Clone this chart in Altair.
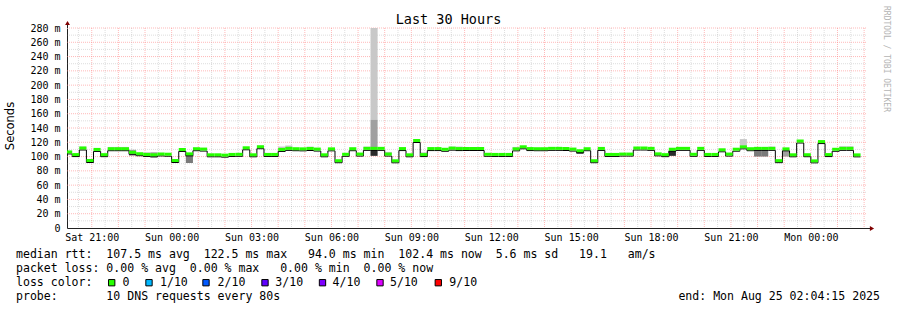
import altair as alt
import pandas as pd

# ---------------- data ----------------
first_bin = "2025-08-23 20:00:00"      # start of first 16-minute RRD bin
bin_minutes = 16

# median RTT per bin (ms)
median_ms = [
    106.5, 102.8, 112.0, 94.5, 110.0, 102.7, 111.0, 111.0, 111.0, 106.0,
    104.0, 103.0, 102.5, 103.7, 103.3, 94.5, 110.0, 103.8, 111.0, 110.5,
    102.5, 102.5, 102.0, 103.0, 103.2, 112.3, 102.5, 113.8, 103.0, 103.0,
    110.0, 111.5, 111.0, 110.8, 111.3, 110.5, 102.5, 110.8, 94.2, 103.2,
    111.0, 103.5, 111.5, 111.5, 111.5, 103.5, 94.1, 111.2, 102.5, 122.5,
    102.8, 111.2, 111.2, 110.2, 111.8, 111.2, 111.3, 111.3, 111.3, 103.2,
    103.0, 103.0, 103.0, 110.8, 113.7, 111.2, 111.0, 111.0, 111.5, 111.5,
    111.3, 110.5, 108.3, 111.0, 94.2, 111.4, 103.0, 103.0, 103.5, 103.5,
    112.0, 112.0, 111.5, 103.8, 102.7, 110.3, 111.5, 111.5, 103.2, 111.5,
    103.0, 103.0, 109.5, 103.5, 110.3, 113.6, 111.0, 111.5, 111.5, 111.5,
    94.3, 110.8, 102.5, 121.8, 102.6, 94.0, 121.0, 102.8, 110.2, 111.5,
    111.5, 102.4,
]

# visible "smoke" (ping spread) per bin: bin index, low, high, density level
smoke_bin = [2, 6, 7, 8, 9, 11, 12, 17, 30, 31, 34, 42, 43, 43, 43, 45, 50,
             54, 55, 63, 72, 85, 95, 97, 98, 99, 101, 109, 110]
smoke_lo = [109.5, 110, 110, 110, 101, 101, 98.5, 91, 109, 110, 110, 110,
            151.7, 109, 101, 103, 101, 110, 110, 110, 104, 101, 112, 100, 100,
            110, 100, 110, 110]
smoke_hi = [114, 113.5, 113.5, 113.5, 109.5, 106, 106, 104, 114, 115.5, 114,
            114, 280, 151.7, 109, 106.5, 106, 114, 114, 113.5, 108, 108.5,
            124.5, 110, 110, 114, 109, 114.5, 114.5]
smoke_level = [1, 1, 1, 1, 2, 1, 2, 3, 1, 1, 1, 1, 1, 2, 4, 1, 1, 1, 1, 1, 4,
               4, 1, 3, 3, 1, 2, 1, 1]

y_ticks = list(range(0, 281, 20))
loss_labels = ["0", "1/10", "2/10", "3/10", "4/10", "5/10", "9/10"]
loss_colors = ["#26ff00", "#00b8ff", "#0059ff", "#5e00ff", "#7e00ff", "#dd00ff", "#ff0000"]

title_text = "Last 30 Hours"
row_rtt = "median rtt:  107.5 ms avg  122.5 ms max   94.0 ms min  102.4 ms now  5.6 ms sd   19.1   am/s"
row_loss = "packet loss: 0.00 % avg  0.00 % max   0.00 % min  0.00 % now"
row_color = "loss color:"
row_probe = "probe:       10 DNS requests every 80s"
end_text = "end: Mon Aug 25 02:04:15 2025"
watermark = "RRDTOOL / TOBI OETIKER"

# ---------------- tables ----------------
t0 = pd.Timestamp(first_bin)
step = pd.Timedelta(minutes=bin_minutes)
n = len(median_ms)
bins = pd.DataFrame({
    "t": [t0 + step * k for k in range(n)],
    "t2": [t0 + step * (k + 1) for k in range(n)],
    "median": median_ms,
})
line_df = pd.DataFrame({
    "t": list(bins["t"]) + [bins["t2"].iloc[-1]],
    "median": median_ms + [median_ms[-1]],
})
smoke = pd.DataFrame({
    "t": [t0 + step * b for b in smoke_bin],
    "t2": [t0 + step * (b + 1) for b in smoke_bin],
    "lo": smoke_lo, "hi": smoke_hi, "level": smoke_level,
})
minor_v = pd.DataFrame({"t": pd.date_range("2025-08-23 20:30", "2025-08-25 01:30", freq="60min")})
major_v = pd.DataFrame({"t": pd.date_range("2025-08-23 21:00", "2025-08-25 02:00", freq="60min")})
minor_h = pd.DataFrame({"v": list(range(10, 280, 20))})
major_h = pd.DataFrame({"v": list(range(20, 281, 20))})
one = pd.DataFrame({"_": [0]})


def dt(d, h, m=0, s=0):
    return alt.DateTime(year=2025, month=8, date=d, hours=h, minutes=m, seconds=s)


MONO = "DejaVu Sans Mono"
GRID = "rgba(128,128,128,0.27)"
MGRID = "rgba(255,128,128,0.55)"
AXIS = "#212121"
ARROW = "#800000"

xs = alt.Scale(domain=[dt(23, 20, 4, 15), dt(25, 2, 4, 15)])
ys = alt.Scale(domain=[0, 280], nice=False, zero=True)
x_label_values = [dt(23, 21)] + [dt(24, h) for h in range(0, 24, 3)] + [dt(25, 0)]

xa = alt.Axis(values=x_label_values, format="%a %H:%M", labelFont=MONO, labelFontSize=10,
              labelColor="black", domainColor=AXIS, ticks=False, grid=False, labelPadding=4,
              title=None, labelFlush=False, labelOverlap=False)
ya = alt.Axis(values=y_ticks, labelExpr="datum.value == 0 ? '0' : datum.value + ' m'",
              labelFont=MONO, labelFontSize=10, labelColor="black", domainColor=AXIS,
              ticks=False, grid=False, labelPadding=7, title=None)

X = lambda f: alt.X(f, scale=xs, axis=xa)
Y = lambda f: alt.Y(f, scale=ys, axis=ya)

# ---------------- layers ----------------
g_minor_v = alt.Chart(minor_v).mark_rule(stroke=GRID, strokeDash=[1, 1], strokeWidth=1).encode(x=X("t:T"))
g_major_v = alt.Chart(major_v).mark_rule(stroke=MGRID, strokeDash=[1, 1], strokeWidth=1).encode(x=X("t:T"))
g_minor_h = alt.Chart(minor_h).mark_rule(stroke=GRID, strokeDash=[1, 1], strokeWidth=1).encode(y=Y("v:Q"))
g_major_h = alt.Chart(major_h).mark_rule(stroke=MGRID, strokeDash=[1, 1], strokeWidth=1).encode(y=Y("v:Q"))

smoke_layer = alt.Chart(smoke).mark_rect(clip=True).encode(
    x=X("t:T"), x2="t2:T", y=Y("lo:Q"), y2="hi:Q",
    color=alt.Color("level:O", legend=None,
                    scale=alt.Scale(domain=[1, 2, 3, 4],
                                    range=["#c8c8c8", "#a0a0a0", "#7a7a7a", "#2a2a2a"])),
)

median_line = alt.Chart(line_df).transform_calculate(
    ly="datum.median - 2.8").mark_line(
    interpolate="step-after", color="#000000", strokeWidth=1, clip=True).encode(
    x=X("t:T"), y=Y("ly:Q"))

band = alt.Chart(bins).transform_calculate(
    lo="datum.median - 2.1", hi="datum.median + 2.1").mark_rect(
    color=loss_colors[0], clip=True).encode(
    x=X("t:T"), x2="t2:T", y=Y("lo:Q"), y2="hi:Q")

# axis extensions and arrows
deco = [
    alt.Chart(one).mark_rule(color=AXIS).encode(x=alt.value(0.5), y=alt.value(-4), y2=alt.value(0)),
    alt.Chart(one).mark_rule(color=AXIS).encode(x=alt.value(799), x2=alt.value(803), y=alt.value(200.5)),
    alt.Chart(one).mark_point(shape="triangle-up", filled=True, color=ARROW, size=24, opacity=1).encode(
        x=alt.value(0.5), y=alt.value(-5)),
    alt.Chart(one).mark_point(shape="triangle-right", filled=True, color=ARROW, size=24, opacity=1).encode(
        x=alt.value(805), y=alt.value(200.5)),
]


def txt(s, x, y, size=11.56, align="left", font=MONO, angle=0, color="black"):
    kw = dict(font=font, fontSize=size, align=align, baseline="middle", color=color)
    if angle:
        kw["angle"] = angle
    return alt.Chart(one).mark_text(**kw).encode(
        x=alt.value(x), y=alt.value(y), text=alt.value(s.replace(" ", "\u00a0")))


texts = [
    txt(title_text, 381.5, -8, size=13.5, align="center"),
    txt("Seconds", -56, 98, size=11.5, align="center", font="DejaVu Sans", angle=270),
    txt(row_rtt, -51, 227),
    txt(row_loss, -51, 240.5),
    txt(row_color, -51, 254.7),
    txt(row_probe, -51, 268.7),
    txt(end_text, 813, 268.7, align="right"),
    txt(watermark, 819, 31, size=8, align="center", angle=90, color="#b4b4b4"),
]

# loss colour legend
sq_x = [44.7, 82, 139, 198, 255.5, 313, 371.3]
lab_x = [55.6, 93, 150.6, 208.3, 265.6, 323, 382.3]
legend = []
for lab, col, sx, lx in zip(loss_labels, loss_colors, sq_x, lab_x):
    legend.append(alt.Chart(one).mark_point(
        shape="square", filled=True, fill=col, stroke="black", strokeWidth=1,
        size=40, opacity=1).encode(x=alt.value(sx), y=alt.value(254.7)))
    legend.append(txt(lab, lx, 254.7))

chart = alt.layer(
    g_minor_v, g_major_v, g_minor_h, g_major_h,
    smoke_layer, median_line, band,
    *deco, *texts, *legend,
).properties(
    width=799, height=200,
    autosize=alt.AutoSizeParams(type="none"),
    padding={"left": 67, "top": 28, "right": 31, "bottom": 82},
    background="white",
).configure_view(stroke=None)

chart.save("out.html", embed_options={"renderer": "svg", "actions": False})
